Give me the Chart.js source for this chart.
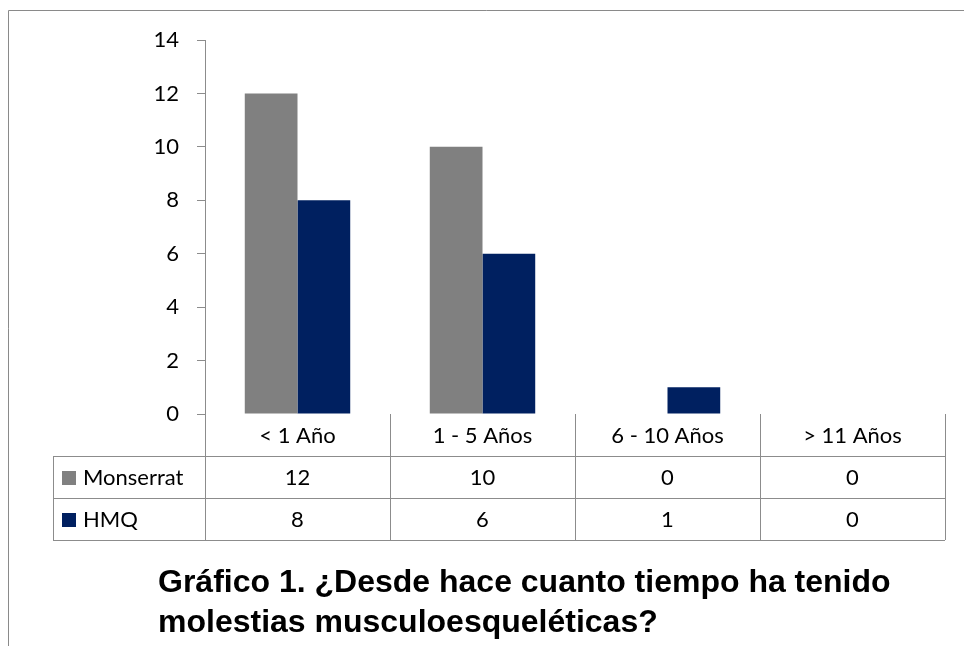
<!DOCTYPE html>
<html>
<head>
<meta charset="utf-8">
<script src="https://cdn.jsdelivr.net/npm/chart.js@4.4.1/dist/chart.umd.min.js"></script>
<style>
  html, body { margin: 0; padding: 0; background: #fff; }
  #wrap { width: 964px; height: 646px; }
</style>
</head>
<body>
<div id="wrap"><canvas id="tiempoChart"></canvas></div>
<script>
const categorias = ['< 1 Año', '1 - 5 Años', '6 - 10 Años', '> 11 Años'];
const monserrat = [12, 10, 0, 0];
const hmq = [8, 6, 1, 0];
const yTicks = [0, 2, 4, 6, 8, 10, 12, 14];
const titulo = ['Gráfico 1. ¿Desde hace cuanto tiempo ha tenido', 'molestias musculoesqueléticas?'];

const lineColor = '#8c8c8c';
const labelFont = '22px Lato, "Open Sans", sans-serif';

// draws the frame, the data table under the axis and the caption
const tablaPlugin = {
    id: 'tabla',
    afterDraw(chart) {
        const ctx = chart.ctx;
        const area = chart.chartArea;
        const xs = chart.scales.x;
        const n = categorias.length;
        const colW = (area.right - area.left) / n;
        const rowH = 42;
        const legendLeft = 53;
        const top = area.bottom;
        const series = chart.data.datasets;

        ctx.save();
        // outer frame (top + left)
        ctx.strokeStyle = '#8a8a8a';
        ctx.lineWidth = 1;
        ctx.beginPath();
        ctx.moveTo(8.5, 646);
        ctx.lineTo(8.5, 10.5);
        ctx.lineTo(964, 10.5);
        ctx.stroke();

        // table grid
        ctx.strokeStyle = lineColor;
        ctx.beginPath();
        for (let r = 1; r <= series.length + 1; r++) {
            const y = Math.round(top + rowH * r) + 0.5;
            ctx.moveTo(legendLeft, y);
            ctx.lineTo(area.right, y);
        }
        for (let c = 0; c <= n; c++) {
            const x = Math.round(area.left + colW * c) + 0.5;
            ctx.moveTo(x, top);
            ctx.lineTo(x, top + rowH * (series.length + 1));
        }
        ctx.moveTo(legendLeft + 0.5, top + rowH);
        ctx.lineTo(legendLeft + 0.5, top + rowH * (series.length + 1));
        ctx.stroke();

        // header row: categories
        ctx.fillStyle = '#000';
        ctx.font = labelFont;
        ctx.textAlign = 'center';
        ctx.textBaseline = 'middle';
        categorias.forEach((c, i) => {
            ctx.fillText(c, xs.getPixelForValue(i), top + rowH / 2 + 1);
        });

        // series rows
        series.forEach((ds, r) => {
            const yc = top + rowH * (r + 1) + rowH / 2 + 1;
            ctx.fillStyle = ds.backgroundColor;
            ctx.fillRect(62, yc - 7, 14, 14);
            ctx.fillStyle = '#000';
            ctx.textAlign = 'left';
            ctx.fillText(ds.label, 83, yc);
            ctx.textAlign = 'center';
            ds.data.forEach((v, i) => {
                ctx.fillText(String(v), xs.getPixelForValue(i), yc);
            });
        });

        // caption
        ctx.font = 'bold 32px "Liberation Sans", Arial, sans-serif';
        ctx.textAlign = 'left';
        ctx.textBaseline = 'alphabetic';
        ctx.fillText(titulo[0], 158, 592);
        ctx.fillText(titulo[1], 158, 632);
        ctx.restore();
    }
};

new Chart(document.getElementById('tiempoChart'), {
    type: 'bar',
    data: {
        labels: categorias,
        datasets: [
            {
                label: 'Monserrat',
                data: monserrat,
                backgroundColor: '#808080',
                categoryPercentage: 0.57,
                barPercentage: 1
            },
            {
                label: 'HMQ',
                data: hmq,
                backgroundColor: '#002060',
                categoryPercentage: 0.57,
                barPercentage: 1
            }
        ]
    },
    options: {
        responsive: true,
        maintainAspectRatio: false,
        animation: false,
        layout: { padding: { left: 0, right: 19, top: 40, bottom: 232 } },
        plugins: {
            legend: { display: false },
            tooltip: { enabled: false }
        },
        scales: {
            x: { display: false },
            y: {
                min: 0,
                max: 14,
                afterBuildTicks(scale) {
                    scale.ticks = yTicks.map(v => ({ value: v }));
                },
                afterFit(scale) { scale.width = 205; },
                border: { display: true, color: lineColor },
                grid: { drawOnChartArea: false, tickLength: 8, color: lineColor },
                ticks: {
                    color: '#000',
                    padding: 18,
                    font: { family: 'Lato, "Open Sans", sans-serif', size: 22 }
                }
            }
        }
    },
    plugins: [tablaPlugin]
});
</script>
</body>
</html>
